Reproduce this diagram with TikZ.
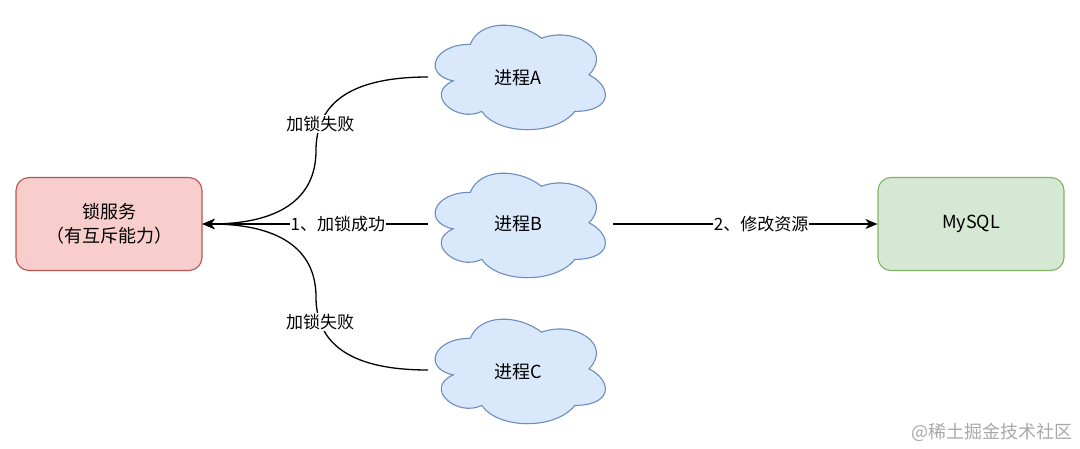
\documentclass[tikz,border=0pt]{standalone}
\usepackage{fontspec}
\setmainfont{Noto Sans CJK SC}
\usetikzlibrary{arrows.meta}
\definecolor{redfill}{HTML}{F8CECC}
\definecolor{redline}{HTML}{B85450}
\definecolor{greenfill}{HTML}{D5E8D4}
\definecolor{greenline}{HTML}{82B366}
\definecolor{bluefill}{HTML}{DAE8FC}
\definecolor{blueline}{HTML}{6C8EBF}
\definecolor{wmgray}{HTML}{A8A8A8}
\tikzset{
  box/.style={rectangle, rounded corners=13pt, line width=1.1pt, minimum width=186pt, minimum height=93pt, inner sep=0pt, align=center, font=\fontsize{18}{24}\selectfont},
  lockbox/.style={box, fill=redfill, draw=redline},
  dbbox/.style={box, fill=greenfill, draw=greenline},
  cloudnode/.style={rectangle, minimum width=190pt, minimum height=122pt, inner sep=0pt, font=\fontsize{18}{22}\selectfont},
  cloudline/.style={fill=bluefill, draw=blueline, line width=1.1pt},
  edge/.style={line width=1.3pt, draw=black, -{Stealth[length=12pt,width=10pt,inset=3.5pt]}},
  lbl/.style={fill=white, inner sep=1pt, font=\fontsize{17}{20}\selectfont},
}
\newcommand{\mycloud}[1]{%
  \draw[cloudline, shift={(#1.north west)}]
    (47.5,30.5) .. controls (9.5,30.5) and (0,61) .. (30.4,67.1)
    .. controls (0,80.52) and (34.2,109.8) .. (58.9,97.6)
    .. controls (76,122) and (133,122) .. (152,97.6)
    .. controls (190,97.6) and (190,73.2) .. (166.25,61)
    .. controls (190,36.6) and (152,12.2) .. (118.75,24.4)
    .. controls (95,6.1) and (57,6.1) .. (47.5,30.5) -- cycle;}
\begin{document}
\begin{tikzpicture}[x=1pt,y=-1pt]
\useasboundingbox (0,0) rectangle (1080,448);
% clouds (shapes drawn first, labels on top)
\path (518,75) node[cloudnode] (A) {};
\path (518,223) node[cloudnode] (B) {};
\path (518,369) node[cloudnode] (C) {};
\mycloud{A}
\mycloud{B}
\mycloud{C}
\node[font=\fontsize{18}{22}\selectfont] at ([yshift=-3pt]A.center) {进程A};
\node[font=\fontsize{18}{22}\selectfont] at ([yshift=-1pt]B.center) {进程B};
\node[font=\fontsize{18}{22}\selectfont] at ([yshift=-3pt]C.center) {进程C};
% boxes
\node[lockbox] (lock) at (109,224) {锁服务\\（有互斥能力）};
\node[dbbox] (db) at (971,224) {MySQL};
% connectors
\coordinate (Aw) at (428,77);
\coordinate (Bw) at (428,224);
\coordinate (Cw) at (428,370);
\coordinate (Be) at (613,224);
\draw[edge] (Aw) .. controls (353.3,77) and (316,101.3) .. (316,150.5)
  node[lbl,pos=0.8] {加锁失败}
  .. controls (316,199.7) and (278,224) .. (lock.east);
\draw[edge] (Cw) .. controls (353.3,370) and (316,345.7) .. (316,297)
  node[lbl,pos=0.81] {加锁失败}
  .. controls (316,248.3) and (278,224) .. (lock.east);
\draw[edge] (Bw) -- (lock.east) node[lbl,pos=0.40] {1、加锁成功};
\draw[edge] (Be) -- (db.west) node[lbl,pos=0.56] {2、修改资源};
% watermark
\node[anchor=east, text=wmgray, inner sep=0pt, font=\fontsize{18}{20}\selectfont] (wm) at (1073,432) {@稀土掘金技术社区};
\end{tikzpicture}
\end{document}
